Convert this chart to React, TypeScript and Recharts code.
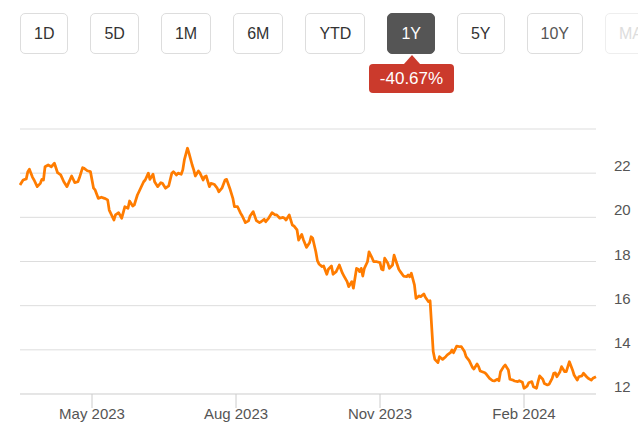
import React from "react";
import { LineChart, Line, XAxis, YAxis, CartesianGrid } from "recharts";

// Days since 2023-03-16 (start of the 1Y window)
const dayIdx: number[] = [
  0, 2, 4, 5, 6, 8, 9, 11, 13, 14,
  15, 16, 18, 20, 21, 22, 24, 26, 28, 30,
  33, 35, 37, 38, 40, 41, 43, 45, 47, 48,
  50, 52, 54, 56, 57, 60, 61, 63, 65, 67,
  69, 70, 72, 73, 75, 76, 79, 80, 82, 83,
  85, 86, 88, 90, 91, 93, 95, 97, 98, 100,
  101, 103, 104, 105, 107, 108, 110, 111, 112, 114,
  115, 117, 118, 119, 121, 122, 124, 126, 127, 129,
  131, 132, 134, 136, 137, 139, 141, 142, 144, 146,
  147, 149, 151, 153, 154, 156, 157, 159, 161, 163,
  164, 166, 168, 169, 170, 172, 174, 175, 177, 178,
  180, 181, 183, 185, 186, 187, 189, 190, 191, 193,
  194, 196, 197, 199, 200, 202, 204, 206, 207, 209,
  210, 212, 213, 215, 216, 217, 218, 219, 220, 222,
  223, 225, 226, 228, 230, 231, 232, 233, 235, 236,
  238, 239, 240, 242, 243, 245, 247, 248, 249, 250,
  252, 253, 255, 256, 258, 259, 261, 262, 264, 265,
  267, 268, 270, 272, 273, 275, 276, 277, 279, 281,
  282, 284, 285, 287, 289, 290, 292, 293, 294, 297,
  298, 300, 302, 303, 305, 306, 307, 309, 310, 312,
  313, 315, 316, 318, 319, 321, 322, 324, 325, 327,
  328, 330, 331, 332, 334, 335, 337, 338, 340, 341,
  342, 343, 345, 346, 348, 349, 350, 351, 353, 354,
  356, 357, 359, 360, 362, 363, 365, 366, 368,
];

const prices: number[] = [
  21.46, 21.69, 21.74, 22.07, 22.18, 21.81, 21.69, 21.39, 21.54, 21.72,
  21.69, 22.29, 22.37, 22.29, 22.37, 22.45, 22.02, 21.92, 21.61, 21.39,
  21.87, 21.57, 21.61, 21.8, 22.25, 22.22, 22.11, 22.07, 21.32, 21.24,
  20.86, 20.91, 20.86, 20.79, 20.33, 19.88, 20.11, 20.21, 19.96, 20.48,
  20.41, 20.74, 20.51, 20.56, 21.01, 21.16, 21.61, 21.69, 22.0, 21.72,
  21.95, 21.61, 21.39, 21.57, 21.54, 21.32, 21.42, 22.0, 22.07, 21.92,
  22.0, 21.95, 22.15, 22.6, 23.13, 22.9, 22.37, 22.15, 21.87, 22.1,
  22.0, 21.69, 21.84, 21.87, 21.39, 21.54, 21.5, 21.32, 21.16, 21.32,
  21.69, 21.72, 21.32, 20.86, 20.48, 20.48, 20.18, 20.06, 19.76, 19.84,
  20.06, 20.26, 19.85, 19.76, 19.8, 19.91, 19.8, 19.98, 20.21, 20.11,
  20.11, 19.96, 20.0, 19.96, 19.88, 20.11, 19.65, 19.61, 19.43, 18.97,
  19.23, 19.0, 18.64, 18.85, 19.12, 19.05, 18.44, 18.04, 17.89, 17.77,
  17.8, 17.42, 17.65, 17.8, 17.42, 17.54, 17.84, 17.47, 17.34, 17.09,
  16.86, 17.09, 16.79, 17.69, 17.65, 17.54, 17.69, 17.34, 17.69, 17.99,
  18.44, 18.15, 17.99, 17.99, 17.95, 17.65, 17.62, 18.15, 17.92, 17.69,
  17.84, 18.29, 18.07, 17.65, 17.54, 17.34, 17.31, 17.39, 17.31, 17.47,
  16.94, 16.33, 16.44, 16.41, 16.53, 16.38, 16.18, 16.22, 13.92, 13.57,
  13.42, 13.69, 13.57, 13.69, 13.77, 13.87, 13.99, 13.87, 14.17, 14.14,
  14.14, 13.92, 13.69, 13.51, 13.21, 13.13, 13.36, 13.24, 13.04, 12.96,
  12.89, 12.71, 12.6, 12.59, 12.67, 12.6, 13.01, 13.24, 13.31, 13.09,
  12.67, 12.63, 12.59, 12.56, 12.6, 12.53, 12.26, 12.36, 12.51, 12.56,
  12.33, 12.26, 12.56, 12.82, 12.67, 12.48, 12.41, 12.44, 12.71, 12.94,
  12.96, 12.78, 13.01, 13.24, 13.01, 13.01, 13.24, 13.46, 13.09, 12.86,
  12.63, 12.78, 12.82, 12.94, 12.78, 12.71, 12.63, 12.71, 12.78,
];

const xTickDays: number[] = [46, 138, 230, 322];
const xTickLabels: string[] = ["May 2023", "Aug 2023", "Nov 2023", "Feb 2024"];
const yTicks: number[] = [12, 14, 16, 18, 20, 22, 24];
const yHiddenTick = 24;

const ranges: string[] = ["1D", "5D", "1M", "6M", "YTD", "1Y", "5Y", "10Y", "MAX"];
const activeRange = "1Y";
const dimRanges: string[] = ["10Y"];
const disabledRanges: string[] = ["MAX"];
const changeLabel = "-40.67%";

const data = dayIdx.map((d, i) => ({ d, v: prices[i] }));

const FONT = '"Liberation Sans", Arial, sans-serif';
const ORANGE = "#ff7c00";

const YTick = (props: any) => {
  const { x, y, payload } = props;
  if (payload.value === yHiddenTick) return <g />;
  return (
    <text x={x} y={y - 2} textAnchor="start" fill="#555" fontSize={15} fontFamily={FONT}>
      {payload.value}
    </text>
  );
};

export default function App() {
  return (
    <div
      style={{
        position: "absolute",
        left: 0,
        top: 0,
        width: 638,
        height: 431,
        overflow: "hidden",
        background: "#fff",
        fontFamily: FONT,
      }}
    >
      <div style={{ position: "absolute", left: 20, top: 13, display: "flex", gap: 22 }}>
        {ranges.map((r) => {
          const active = r === activeRange;
          const disabled = disabledRanges.includes(r);
          const dim = dimRanges.includes(r);
          return (
            <div
              key={r}
              style={{
                height: 41,
                boxSizing: "border-box",
                border: `1px solid ${active ? "#555" : disabled ? "#eee" : "#ddd"}`,
                borderRadius: 5,
                padding: "0 13px",
                display: "flex",
                alignItems: "center",
                fontSize: 16,
                color: active ? "#fff" : disabled ? "#ddd" : dim ? "#555" : "#333",
                background: active ? "#555" : "#fff",
                whiteSpace: "nowrap",
              }}
            >
              {r}
            </div>
          );
        })}
      </div>
      <div
        style={{
          position: "absolute",
          left: 404,
          top: 55,
          width: 0,
          height: 0,
          borderLeft: "8px solid transparent",
          borderRight: "8px solid transparent",
          borderBottom: "9px solid #cb3a2c",
        }}
      />
      <div
        style={{
          position: "absolute",
          left: 369,
          top: 64,
          width: 85,
          height: 29,
          background: "#cb3a2c",
          borderRadius: 4,
          color: "#fff",
          fontSize: 17,
          display: "flex",
          alignItems: "center",
          justifyContent: "center",
        }}
      >
        {changeLabel}
      </div>
      <div style={{ position: "absolute", left: 0, top: 0 }}>
        <LineChart width={638} height={431} data={data} margin={{ top: 129, right: 0, bottom: 0, left: 20 }}>
          <CartesianGrid vertical={false} stroke="#ddd" strokeWidth={1} />
          <XAxis
            dataKey="d"
            type="number"
            domain={[0, 368]}
            ticks={xTickDays}
            tickFormatter={(t: number) => xTickLabels[xTickDays.indexOf(t)] ?? ""}
            height={37}
            axisLine={{ stroke: "#ddd" }}
            tickLine={{ stroke: "#ccc" }}
            tickSize={14}
            tickMargin={0}
            tick={{ fill: "#555", fontSize: 15, fontFamily: FONT }}
            interval={0}
          />
          <YAxis
            orientation="right"
            type="number"
            domain={[12, 24]}
            ticks={yTicks}
            width={42}
            axisLine={false}
            tickLine={false}
            tickSize={0}
            tickMargin={18}
            tick={<YTick />}
            interval={0}
          />
          <Line
            type="linear"
            dataKey="v"
            stroke={ORANGE}
            strokeWidth={2.75}
            dot={false}
            strokeLinejoin="round"
            isAnimationActive={false}
          />
        </LineChart>
      </div>
    </div>
  );
}
